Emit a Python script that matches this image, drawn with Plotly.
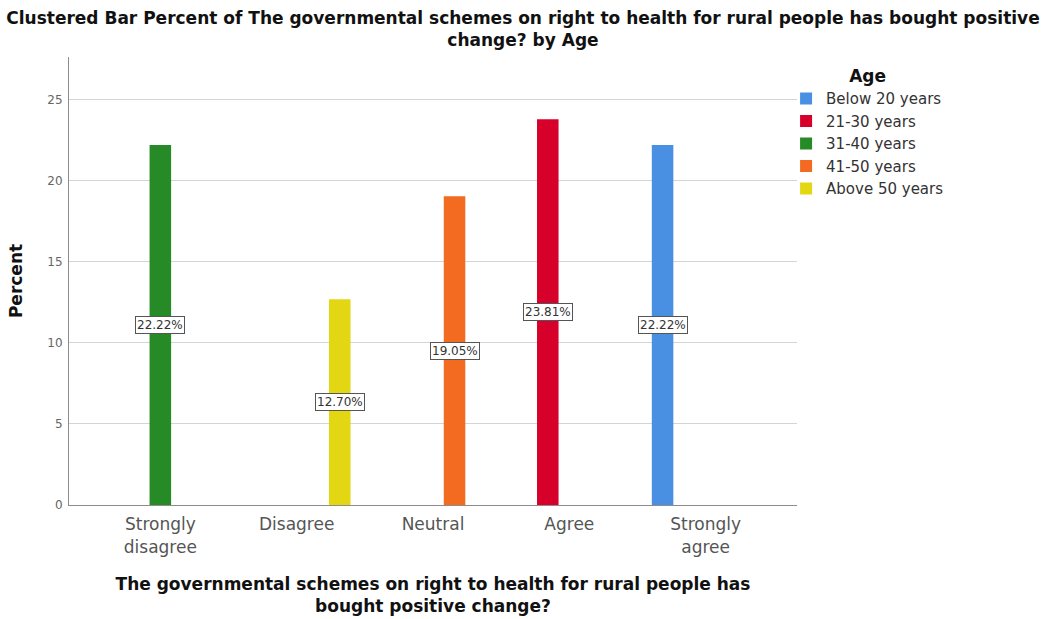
import plotly.graph_objects as go

# Response categories on the x axis
categories = ["Strongly disagree", "Disagree", "Neutral", "Agree", "Strongly agree"]
category_ticktext = ["Strongly<br>disagree", "Disagree", "Neutral", "Agree", "Strongly<br>agree"]

# Age groups (one bar series each) and their colours
age_groups = ["Below 20 years", "21-30 years", "31-40 years", "41-50 years", "Above 50 years"]
age_colors = ["#4A90E2", "#D7002B", "#268A26", "#F26B21", "#E3D713"]

# Percent of respondents per category, one list per age group
pct_below_20 = [None, None, None, None, 22.22]
pct_21_30 = [None, None, None, 23.81, None]
pct_31_40 = [22.22, None, None, None, None]
pct_41_50 = [None, None, 19.05, None, None]
pct_above_50 = [None, 12.70, None, None, None]

series = [pct_below_20, pct_21_30, pct_31_40, pct_41_50, pct_above_50]

y_ticks = [0, 5, 10, 15, 20, 25]

BARGAP = 0.21
FONT = "DejaVu Sans, Liberation Sans, Arial, sans-serif"

fig = go.Figure()
for name, color, values in zip(age_groups, age_colors, series):
    fig.add_trace(go.Bar(
        x=categories, y=values, name=name,
        marker=dict(color=color, line=dict(width=0)),
        hoverinfo="x+y+name",
    ))

# Boxed percent labels at the middle of each bar
n = len(series)
slot = (1 - BARGAP) / n
for k, values in enumerate(series):
    for i, v in enumerate(values):
        if v is None:
            continue
        fig.add_annotation(
            x=i + (k - (n - 1) / 2) * slot, y=v / 2,
            xref="x", yref="y",
            text=f"{v:.2f}%", showarrow=False,
            font=dict(family=FONT, size=12, color="#333333"),
            bgcolor="white", bordercolor="#555555", borderwidth=1, borderpad=1,
        )

fig.update_layout(
    width=1046, height=619,
    paper_bgcolor="white", plot_bgcolor="white",
    margin=dict(l=69, r=249, t=57, b=114),
    barmode="group", bargap=BARGAP, bargroupgap=0,
    font=dict(family=FONT, color="#555555"),
    title=dict(
        text="Clustered Bar Percent of The governmental schemes on right to health for rural people has bought positive<br>change? by Age",
        x=0.5, xanchor="center", xref="container",
        y=0.962, yref="container", yanchor="top", pad=dict(t=0),
        font=dict(family=FONT, size=17, color="#111111", weight="bold"),
    ),
    legend=dict(
        title=dict(text="Age", side="top center",
                   font=dict(family=FONT, size=17, color="#111111", weight="bold")),
        x=0.985, xanchor="left", y=0.993, yanchor="top",
        font=dict(family=FONT, size=15, color="#333333"),
        itemwidth=30, bgcolor="rgba(0,0,0,0)",
    ),
    showlegend=True,
)

fig.update_xaxes(
    type="category", range=[-0.67, 4.67],
    tickvals=categories, ticktext=category_ticktext,
    tickfont=dict(family=FONT, size=17, color="#555555"),
    ticklabelstandoff=4, automargin=False,
    showline=True, linecolor="#8c8c8c", linewidth=1,
    showgrid=False, ticks="",
    title=dict(
        text="The governmental schemes on right to health for rural people has<br>bought positive change?",
        font=dict(family=FONT, size=17, color="#111111", weight="bold"),
        standoff=22,
    ),
)

fig.update_yaxes(
    range=[0, 27.65], tickvals=y_ticks,
    tickfont=dict(family=FONT, size=12, color="#666666"),
    showline=True, linecolor="#8c8c8c", linewidth=1,
    showgrid=True, gridcolor="#d4d4d4", gridwidth=1,
    zeroline=False, ticks="", ticklen=0, ticklabelstandoff=3, automargin=False,
    title=dict(text="Percent", font=dict(family=FONT, size=17, color="#111111", weight="bold"),
               standoff=20),
)

fig.write_html("out.html")
